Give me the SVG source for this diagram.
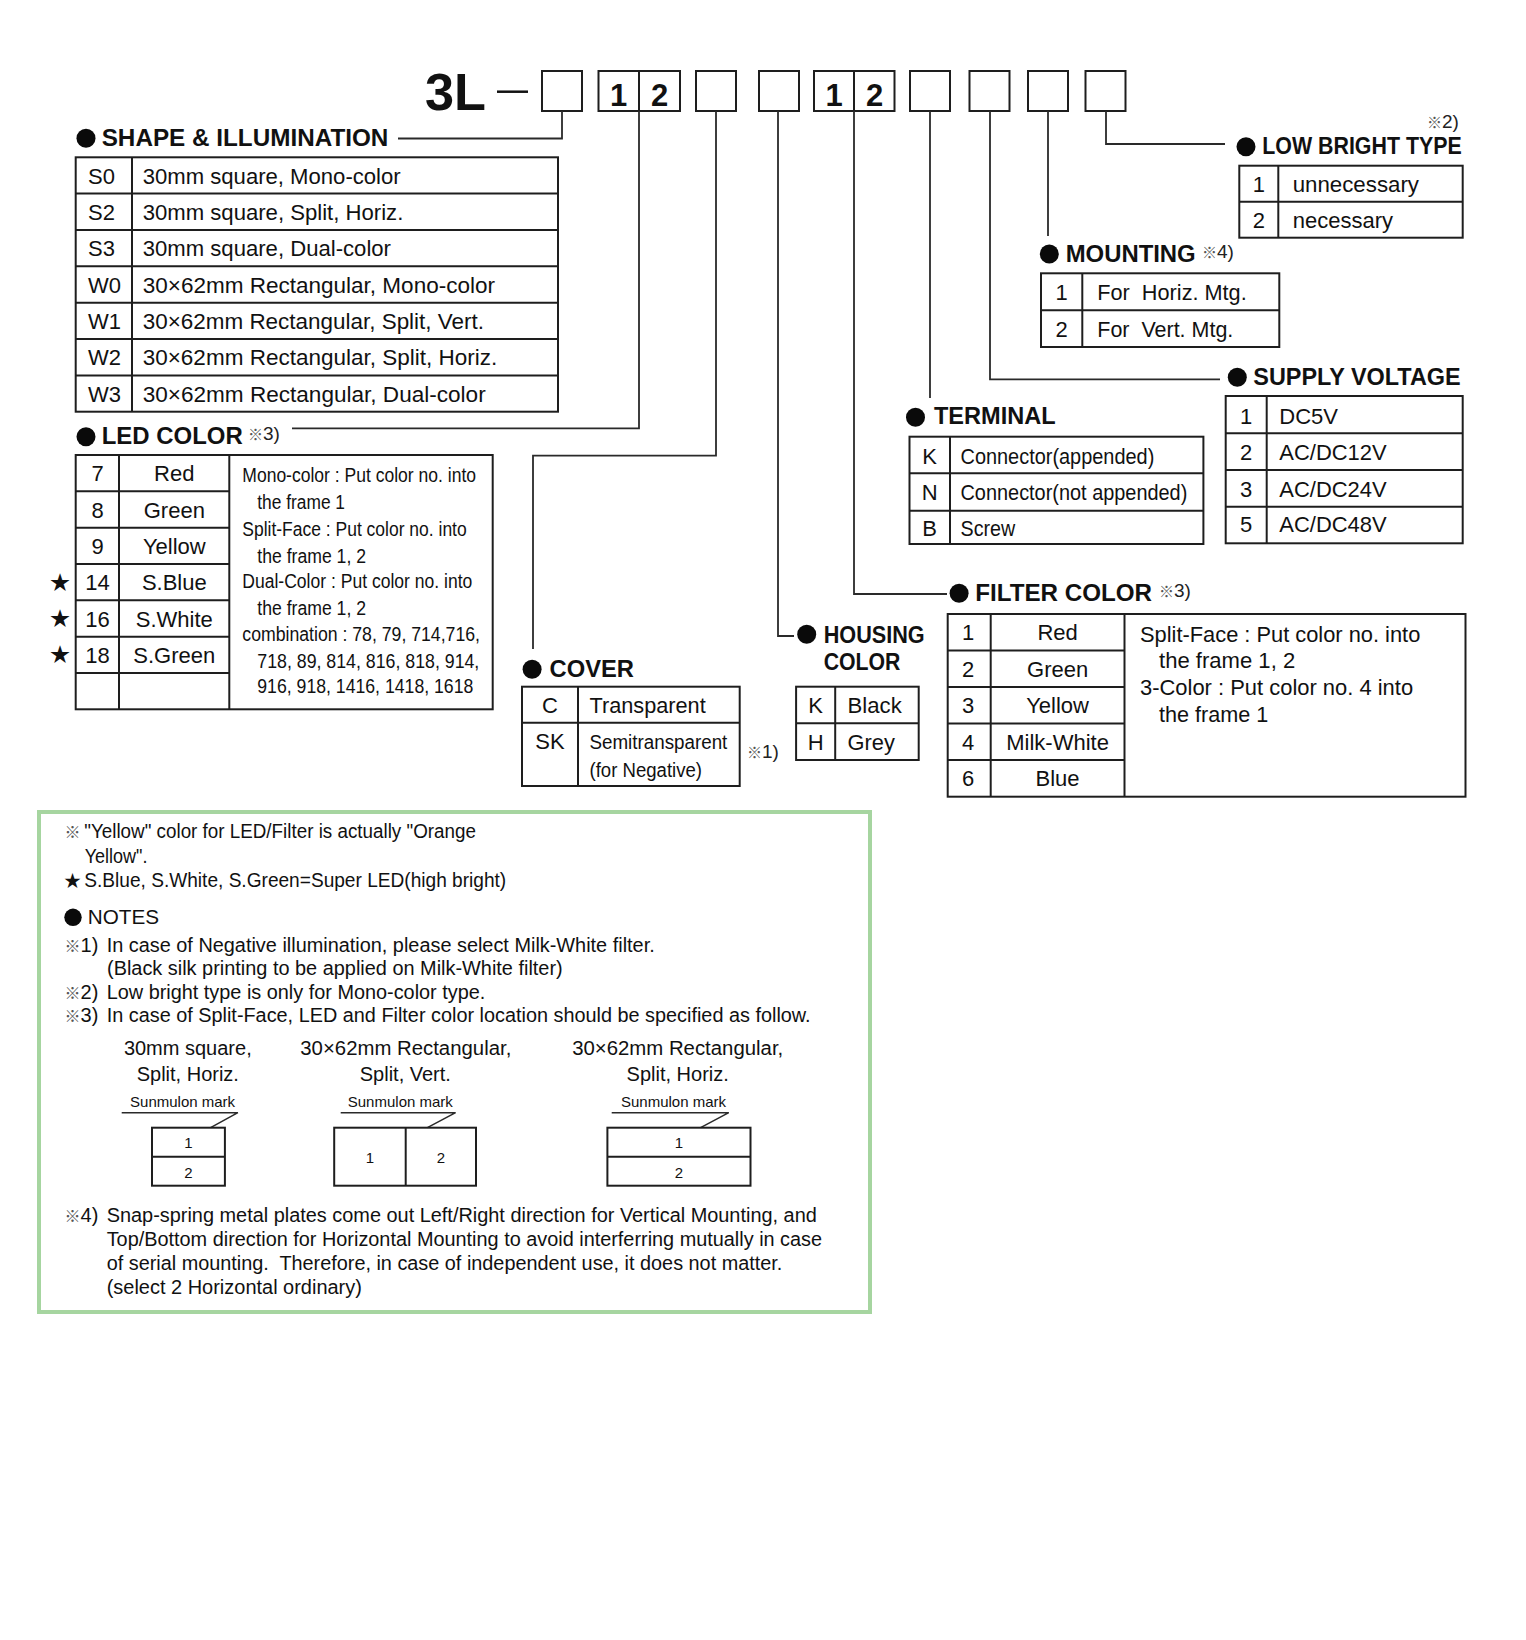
<svg xmlns="http://www.w3.org/2000/svg" width="1526" height="1640" viewBox="0 0 1526 1640">
<style>
text{font-family:"Liberation Sans","Noto Sans CJK JP",sans-serif;fill:#111}
.t{font-size:22px}
.c{text-anchor:middle}
.b{font-size:23.5px;font-weight:bold}
.n{font-size:20px}
.s{font-size:19px;fill:#222}
.k{font-size:15px;fill:#555}
.sm{font-size:15px}
.pre{white-space:pre}
.ln{stroke:#1e1e1e;stroke-width:2;fill:none}
.cn{stroke:#2a2a2a;stroke-width:1.8;fill:none}
.dot{fill:#0a0a0a}
</style>
<rect x="0" y="0" width="1526" height="1640" fill="#fff"/>

<g id="code">
  <text x="425" y="110" style="font-size:52px;font-weight:bold" textLength="61" lengthAdjust="spacingAndGlyphs">3L</text>
  <line x1="497" y1="91.7" x2="528" y2="91.7" stroke="#111" stroke-width="2.5"/>
  <rect class="ln" x="542" y="71" width="40" height="40"/>
  <rect class="ln" x="598.5" y="71" width="81.5" height="40"/>
  <line class="ln" x1="639" y1="71" x2="639" y2="111"/>
  <text x="618.7" y="105.5" class="c" style="font-size:31px;font-weight:bold">1</text>
  <text x="659.5" y="105.5" class="c" style="font-size:31px;font-weight:bold">2</text>
  <rect class="ln" x="696" y="71" width="40" height="40"/>
  <rect class="ln" x="759" y="71" width="40" height="40"/>
  <rect class="ln" x="814" y="71" width="80.5" height="40"/>
  <line class="ln" x1="854" y1="71" x2="854" y2="111"/>
  <text x="834" y="105.5" class="c" style="font-size:31px;font-weight:bold">1</text>
  <text x="874.5" y="105.5" class="c" style="font-size:31px;font-weight:bold">2</text>
  <rect class="ln" x="910" y="71" width="40" height="40"/>
  <rect class="ln" x="969.5" y="71" width="40" height="40"/>
  <rect class="ln" x="1028" y="71" width="40" height="40"/>
  <rect class="ln" x="1085.5" y="71" width="40" height="40"/>
</g>

<g id="connectors">
  <polyline class="cn" points="562,111 562,138.5 398,138.5"/>
  <polyline class="cn" points="639,111 639,428.3 292,428.3"/>
  <polyline class="cn" points="716,111 716,455.7 533,455.7 533,649"/>
  <polyline class="cn" points="778,111 778,636 794,636"/>
  <polyline class="cn" points="854,111 854,594 947,594"/>
  <polyline class="cn" points="930,111 930,398"/>
  <polyline class="cn" points="990,111 990,379.3 1220,379.3"/>
  <polyline class="cn" points="1048,111 1048,236"/>
  <polyline class="cn" points="1106,111 1106,144 1225,144"/>
</g>

<g id="shape">
  <circle class="dot" cx="86" cy="138.3" r="9.5"/>
  <text x="101.7" y="146" class="b" textLength="286.7" lengthAdjust="spacingAndGlyphs">SHAPE &amp; ILLUMINATION</text>
  <rect class="ln" x="75.7" y="157.3" width="482.3" height="254.4"/>
  <line class="ln" x1="132" y1="157.3" x2="132" y2="411.7"/>
  <line class="ln" x1="75.7" y1="193.6" x2="558" y2="193.6"/>
  <line class="ln" x1="75.7" y1="230" x2="558" y2="230"/>
  <line class="ln" x1="75.7" y1="266.3" x2="558" y2="266.3"/>
  <line class="ln" x1="75.7" y1="302.7" x2="558" y2="302.7"/>
  <line class="ln" x1="75.7" y1="339" x2="558" y2="339"/>
  <line class="ln" x1="75.7" y1="375.4" x2="558" y2="375.4"/>
  <text x="88" y="183.5" class="t">S0</text>
  <text x="88" y="219.8" class="t">S2</text>
  <text x="88" y="256.2" class="t">S3</text>
  <text x="88" y="292.5" class="t">W0</text>
  <text x="88" y="328.8" class="t">W1</text>
  <text x="88" y="365.2" class="t">W2</text>
  <text x="88" y="401.5" class="t">W3</text>
  <text x="142.7" y="183.5" class="t" textLength="258" lengthAdjust="spacingAndGlyphs">30mm square, Mono-color</text>
  <text x="142.7" y="219.8" class="t" textLength="260.6" lengthAdjust="spacingAndGlyphs">30mm square, Split, Horiz.</text>
  <text x="142.7" y="256.2" class="t" textLength="248.3" lengthAdjust="spacingAndGlyphs">30mm square, Dual-color</text>
  <text x="142.7" y="292.5" class="t" textLength="352.3" lengthAdjust="spacingAndGlyphs">30×62mm Rectangular, Mono-color</text>
  <text x="142.7" y="328.8" class="t" textLength="341.3" lengthAdjust="spacingAndGlyphs">30×62mm Rectangular, Split, Vert.</text>
  <text x="142.7" y="365.2" class="t" textLength="354.6" lengthAdjust="spacingAndGlyphs">30×62mm Rectangular, Split, Horiz.</text>
  <text x="142.7" y="401.5" class="t" textLength="343" lengthAdjust="spacingAndGlyphs">30×62mm Rectangular, Dual-color</text>
</g>

<g id="led-color">
  <circle class="dot" cx="86" cy="436.7" r="9.5"/>
  <text x="101.7" y="444.3" class="b" textLength="141" lengthAdjust="spacingAndGlyphs">LED COLOR</text>
  <text x="248" y="440" class="s"><tspan class="k">※</tspan>3)</text>
  <rect class="ln" x="75.7" y="455" width="417" height="254.3"/>
  <line class="ln" x1="119" y1="455" x2="119" y2="709.3"/>
  <line class="ln" x1="229.3" y1="455" x2="229.3" y2="709.3"/>
  <line class="ln" x1="75.7" y1="491.3" x2="229.3" y2="491.3"/>
  <line class="ln" x1="75.7" y1="527.7" x2="229.3" y2="527.7"/>
  <line class="ln" x1="75.7" y1="564" x2="229.3" y2="564"/>
  <line class="ln" x1="75.7" y1="600.3" x2="229.3" y2="600.3"/>
  <line class="ln" x1="75.7" y1="636.7" x2="229.3" y2="636.7"/>
  <line class="ln" x1="75.7" y1="673" x2="229.3" y2="673"/>
  <text x="97.5" y="481.2" class="t c">7</text>
  <text x="97.5" y="517.5" class="t c">8</text>
  <text x="97.5" y="553.8" class="t c">9</text>
  <text x="97.5" y="590.2" class="t c">14</text>
  <text x="97.5" y="626.5" class="t c">16</text>
  <text x="97.5" y="662.8" class="t c">18</text>
  <text x="174.3" y="481.2" class="t c">Red</text>
  <text x="174.3" y="517.5" class="t c">Green</text>
  <text x="174.3" y="553.8" class="t c">Yellow</text>
  <text x="174.3" y="590.2" class="t c">S.Blue</text>
  <text x="174.3" y="626.5" class="t c">S.White</text>
  <text x="174.3" y="662.8" class="t c">S.Green</text>
  <text x="60" y="589.5" class="c" style="font-size:20px">★</text>
  <text x="60" y="625.8" class="c" style="font-size:20px">★</text>
  <text x="60" y="662" class="c" style="font-size:20px">★</text>
  <text x="242.3" y="482.3" class="n" textLength="233.7" lengthAdjust="spacingAndGlyphs">Mono-color : Put color no. into</text>
  <text x="257.3" y="509.3" class="n" textLength="87.7" lengthAdjust="spacingAndGlyphs">the frame 1</text>
  <text x="242.3" y="535.7" class="n" textLength="224.4" lengthAdjust="spacingAndGlyphs">Split-Face : Put color no. into</text>
  <text x="257.3" y="562.7" class="n" textLength="108.7" lengthAdjust="spacingAndGlyphs">the frame 1, 2</text>
  <text x="242.3" y="588.3" class="n" textLength="230" lengthAdjust="spacingAndGlyphs">Dual-Color : Put color no. into</text>
  <text x="257.3" y="615" class="n" textLength="108.7" lengthAdjust="spacingAndGlyphs">the frame 1, 2</text>
  <text x="242.3" y="641" class="n" textLength="237.7" lengthAdjust="spacingAndGlyphs">combination : 78, 79, 714,716,</text>
  <text x="257.3" y="668.3" class="n" textLength="222" lengthAdjust="spacingAndGlyphs">718, 89, 814, 816, 818, 914,</text>
  <text x="257.3" y="693.3" class="n" textLength="216" lengthAdjust="spacingAndGlyphs">916, 918, 1416, 1418, 1618</text>
</g>

<g id="cover">
  <circle class="dot" cx="532.1" cy="669.3" r="9.5"/>
  <text x="549.6" y="677.3" class="b" textLength="84.4" lengthAdjust="spacingAndGlyphs">COVER</text>
  <rect class="ln" x="522" y="686.7" width="217.7" height="99.3"/>
  <line class="ln" x1="578" y1="686.7" x2="578" y2="786"/>
  <line class="ln" x1="522" y1="722.7" x2="739.7" y2="722.7"/>
  <text x="550" y="713.3" class="t c">C</text>
  <text x="550" y="749.3" class="t c">SK</text>
  <text x="589.5" y="713.3" class="t" textLength="116.2" lengthAdjust="spacingAndGlyphs">Transparent</text>
  <text x="589.5" y="749.3" style="font-size:20px" textLength="137.8" lengthAdjust="spacingAndGlyphs">Semitransparent</text>
  <text x="589.5" y="776.7" style="font-size:20px" textLength="112.5" lengthAdjust="spacingAndGlyphs">(for Negative)</text>
  <text x="747" y="758.3" class="s"><tspan class="k">※</tspan>1)</text>
</g>

<g id="housing-color">
  <circle class="dot" cx="806.7" cy="634.3" r="9.5"/>
  <text x="823.7" y="643.3" class="b" textLength="101" lengthAdjust="spacingAndGlyphs">HOUSING</text>
  <text x="823.7" y="670" class="b" textLength="76.7" lengthAdjust="spacingAndGlyphs">COLOR</text>
  <rect class="ln" x="796.1" y="686.7" width="122.6" height="73.3"/>
  <line class="ln" x1="835.2" y1="686.7" x2="835.2" y2="760"/>
  <line class="ln" x1="796.1" y1="723.3" x2="918.7" y2="723.3"/>
  <text x="815.6" y="713" class="t c">K</text>
  <text x="815.6" y="749.7" class="t c">H</text>
  <text x="847.6" y="713" class="t" textLength="54.1" lengthAdjust="spacingAndGlyphs">Black</text>
  <text x="847.6" y="749.7" class="t" textLength="47.3" lengthAdjust="spacingAndGlyphs">Grey</text>
</g>

<g id="terminal">
  <circle class="dot" cx="915.5" cy="417.3" r="9.5"/>
  <text x="933.9" y="424.3" class="b" textLength="121.7" lengthAdjust="spacingAndGlyphs">TERMINAL</text>
  <rect class="ln" x="909.5" y="436.7" width="293.9" height="107.3"/>
  <line class="ln" x1="950" y1="436.7" x2="950" y2="544"/>
  <line class="ln" x1="909.5" y1="473.3" x2="1203.4" y2="473.3"/>
  <line class="ln" x1="909.5" y1="510.7" x2="1203.4" y2="510.7"/>
  <text x="929.7" y="463.5" class="t c">K</text>
  <text x="929.7" y="500" class="t c">N</text>
  <text x="929.7" y="535.5" class="t c">B</text>
  <text x="960.5" y="463.5" class="t" textLength="193.8" lengthAdjust="spacingAndGlyphs">Connector(appended)</text>
  <text x="960.5" y="500" class="t" textLength="226.8" lengthAdjust="spacingAndGlyphs">Connector(not appended)</text>
  <text x="960.5" y="535.5" class="t" textLength="54.7" lengthAdjust="spacingAndGlyphs">Screw</text>
</g>

<g id="filter-color">
  <circle class="dot" cx="959.1" cy="593.3" r="9.5"/>
  <text x="975.2" y="601" class="b" textLength="176.8" lengthAdjust="spacingAndGlyphs">FILTER COLOR</text>
  <text x="1158.9" y="596.7" class="s"><tspan class="k">※</tspan>3)</text>
  <rect class="ln" x="947.7" y="614" width="517.8" height="182.7"/>
  <line class="ln" x1="990.7" y1="614" x2="990.7" y2="796.7"/>
  <line class="ln" x1="1124.5" y1="614" x2="1124.5" y2="796.7"/>
  <line class="ln" x1="947.7" y1="650.5" x2="1124.5" y2="650.5"/>
  <line class="ln" x1="947.7" y1="687" x2="1124.5" y2="687"/>
  <line class="ln" x1="947.7" y1="723.5" x2="1124.5" y2="723.5"/>
  <line class="ln" x1="947.7" y1="760" x2="1124.5" y2="760"/>
  <text x="968" y="640.3" class="t c">1</text>
  <text x="968" y="676.8" class="t c">2</text>
  <text x="968" y="713.3" class="t c">3</text>
  <text x="968" y="749.8" class="t c">4</text>
  <text x="968" y="786.3" class="t c">6</text>
  <text x="1057.6" y="640.3" class="t c">Red</text>
  <text x="1057.6" y="676.8" class="t c">Green</text>
  <text x="1057.6" y="713.3" class="t c">Yellow</text>
  <text x="1057.6" y="749.8" class="t c">Milk-White</text>
  <text x="1057.6" y="786.3" class="t c">Blue</text>
  <text x="1140" y="641.7" class="t" textLength="280.3" lengthAdjust="spacingAndGlyphs">Split-Face : Put color no. into</text>
  <text x="1159" y="668.3" class="t" textLength="136.2" lengthAdjust="spacingAndGlyphs">the frame 1, 2</text>
  <text x="1140" y="695" class="t" textLength="273.1" lengthAdjust="spacingAndGlyphs">3-Color : Put color no. 4 into</text>
  <text x="1159" y="721.7" class="t" textLength="109.3" lengthAdjust="spacingAndGlyphs">the frame 1</text>
</g>

<g id="low-bright-type">
  <text x="1427" y="127.7" class="s"><tspan class="k">※</tspan>2)</text>
  <circle class="dot" cx="1246" cy="146.7" r="9.5"/>
  <text x="1262.3" y="154.3" class="b" textLength="199.4" lengthAdjust="spacingAndGlyphs">LOW BRIGHT TYPE</text>
  <rect class="ln" x="1239.3" y="165.7" width="223.4" height="72"/>
  <line class="ln" x1="1278.3" y1="165.7" x2="1278.3" y2="237.7"/>
  <line class="ln" x1="1239.3" y1="201.7" x2="1462.7" y2="201.7"/>
  <text x="1258.8" y="191.5" class="t c">1</text>
  <text x="1258.8" y="228" class="t c">2</text>
  <text x="1292.7" y="191.5" class="t" textLength="126.3" lengthAdjust="spacingAndGlyphs">unnecessary</text>
  <text x="1292.7" y="228" class="t">necessary</text>
</g>

<g id="mounting">
  <circle class="dot" cx="1049.3" cy="254" r="9.5"/>
  <text x="1065.7" y="261.7" class="b" textLength="130" lengthAdjust="spacingAndGlyphs">MOUNTING</text>
  <text x="1202" y="258" class="s"><tspan class="k">※</tspan>4)</text>
  <rect class="ln" x="1041" y="273.3" width="238.3" height="73.7"/>
  <line class="ln" x1="1082.3" y1="273.3" x2="1082.3" y2="347"/>
  <line class="ln" x1="1041" y1="310.2" x2="1279.3" y2="310.2"/>
  <text x="1061.7" y="300" class="t c">1</text>
  <text x="1061.7" y="337" class="t c">2</text>
  <text x="1097.3" y="300" class="t pre" textLength="149.4" lengthAdjust="spacingAndGlyphs">For  Horiz. Mtg.</text>
  <text x="1097.3" y="337" class="t pre" textLength="136" lengthAdjust="spacingAndGlyphs">For  Vert. Mtg.</text>
</g>

<g id="supply-voltage">
  <circle class="dot" cx="1237.3" cy="377.3" r="9.5"/>
  <text x="1253.3" y="385" class="b" textLength="207.4" lengthAdjust="spacingAndGlyphs">SUPPLY VOLTAGE</text>
  <rect class="ln" x="1225.7" y="396" width="237" height="147.3"/>
  <line class="ln" x1="1266.7" y1="396" x2="1266.7" y2="543.3"/>
  <line class="ln" x1="1225.7" y1="433.3" x2="1462.7" y2="433.3"/>
  <line class="ln" x1="1225.7" y1="470" x2="1462.7" y2="470"/>
  <line class="ln" x1="1225.7" y1="506.7" x2="1462.7" y2="506.7"/>
  <text x="1246.2" y="423.5" class="t c">1</text>
  <text x="1246.2" y="460" class="t c">2</text>
  <text x="1246.2" y="496.7" class="t c">3</text>
  <text x="1246.2" y="532" class="t c">5</text>
  <text x="1279.3" y="423.5" class="t">DC5V</text>
  <text x="1279.3" y="460" class="t" textLength="107.4" lengthAdjust="spacingAndGlyphs">AC/DC12V</text>
  <text x="1279.3" y="496.7" class="t" textLength="107.4" lengthAdjust="spacingAndGlyphs">AC/DC24V</text>
  <text x="1279.3" y="532" class="t" textLength="107.4" lengthAdjust="spacingAndGlyphs">AC/DC48V</text>
</g>

<g id="notes">
  <rect x="39" y="812" width="831" height="500" fill="none" stroke="#a6d5a0" stroke-width="4"/>
  <text x="64.5" y="838.3" class="k" style="font-size:16px">※</text>
  <text x="84.3" y="838.3" class="n" textLength="391.6" lengthAdjust="spacingAndGlyphs">"Yellow" color for LED/Filter is actually "Orange</text>
  <text x="84.7" y="863.3" class="n" textLength="62.8" lengthAdjust="spacingAndGlyphs">Yellow".</text>
  <text x="64" y="887.3" style="font-size:17px">★</text>
  <text x="84.3" y="887.3" class="n" textLength="421.9" lengthAdjust="spacingAndGlyphs">S.Blue, S.White, S.Green=Super LED(high bright)</text>
  <circle class="dot" cx="73" cy="917.3" r="8.7"/>
  <text x="87.7" y="924.3" style="font-size:21px" textLength="71.3" lengthAdjust="spacingAndGlyphs">NOTES</text>
  <text x="64.5" y="951.7" class="n"><tspan class="k" style="font-size:16px">※</tspan>1)</text>
  <text x="106.7" y="951.7" class="n" textLength="548" lengthAdjust="spacingAndGlyphs">In case of Negative illumination, please select Milk-White filter.</text>
  <text x="107" y="975" class="n" textLength="455.7" lengthAdjust="spacingAndGlyphs">(Black silk printing to be applied on Milk-White filter)</text>
  <text x="64.5" y="998.5" class="n"><tspan class="k" style="font-size:16px">※</tspan>2)</text>
  <text x="106.7" y="998.5" class="n" textLength="378.6" lengthAdjust="spacingAndGlyphs">Low bright type is only for Mono-color type.</text>
  <text x="64.5" y="1022" class="n"><tspan class="k" style="font-size:16px">※</tspan>3)</text>
  <text x="106.7" y="1022" class="n" textLength="703.9" lengthAdjust="spacingAndGlyphs">In case of Split-Face, LED and Filter color location should be specified as follow.</text>

  <text x="187.8" y="1055" class="n c">30mm square,</text>
  <text x="187.8" y="1080.7" class="n c">Split, Horiz.</text>
  <text x="405.8" y="1055" class="n c" textLength="211" lengthAdjust="spacingAndGlyphs">30×62mm Rectangular,</text>
  <text x="405.3" y="1080.7" class="n c">Split, Vert.</text>
  <text x="677.7" y="1055" class="n c" textLength="211" lengthAdjust="spacingAndGlyphs">30×62mm Rectangular,</text>
  <text x="677.7" y="1080.7" class="n c">Split, Horiz.</text>

  <text x="182.6" y="1107.3" class="sm c">Sunmulon mark</text>
  <polyline class="cn" style="stroke-width:1.5" points="121.7,1112.7 237.9,1112.7 210.6,1127.7"/>
  <rect class="ln" x="152" y="1127.7" width="72.9" height="58"/>
  <line class="ln" x1="152" y1="1156.7" x2="224.9" y2="1156.7"/>
  <text x="188.5" y="1148.3" class="sm c">1</text>
  <text x="188.5" y="1177.7" class="sm c">2</text>

  <text x="400.3" y="1107.3" class="sm c">Sunmulon mark</text>
  <polyline class="cn" style="stroke-width:1.5" points="340.7,1112.7 455.6,1112.7 427.4,1127.7"/>
  <rect class="ln" x="334.2" y="1127.7" width="141.8" height="58"/>
  <line class="ln" x1="405.7" y1="1127.7" x2="405.7" y2="1185.7"/>
  <text x="370" y="1163.3" class="sm c">1</text>
  <text x="440.8" y="1163.3" class="sm c">2</text>

  <text x="673.5" y="1107.3" class="sm c">Sunmulon mark</text>
  <polyline class="cn" style="stroke-width:1.5" points="611.7,1112.7 728.8,1112.7 700.6,1127.7"/>
  <rect class="ln" x="607.4" y="1127.7" width="143.1" height="58"/>
  <line class="ln" x1="607.4" y1="1156.7" x2="750.5" y2="1156.7"/>
  <text x="679" y="1148.3" class="sm c">1</text>
  <text x="679" y="1177.7" class="sm c">2</text>

  <text x="64.5" y="1221.7" class="n"><tspan class="k" style="font-size:16px">※</tspan>4)</text>
  <text x="106.7" y="1221.7" class="n" textLength="710.1" lengthAdjust="spacingAndGlyphs">Snap-spring metal plates come out Left/Right direction for Vertical Mounting, and</text>
  <text x="106.7" y="1246" class="n" textLength="715.4" lengthAdjust="spacingAndGlyphs">Top/Bottom direction for Horizontal Mounting to avoid interferring mutually in case</text>
  <text x="106.7" y="1270" class="n pre" textLength="675.6" lengthAdjust="spacingAndGlyphs">of serial mounting.  Therefore, in case of independent use, it does not matter.</text>
  <text x="106.7" y="1294" class="n" textLength="255.2" lengthAdjust="spacingAndGlyphs">(select 2 Horizontal ordinary)</text>
</g>
</svg>
